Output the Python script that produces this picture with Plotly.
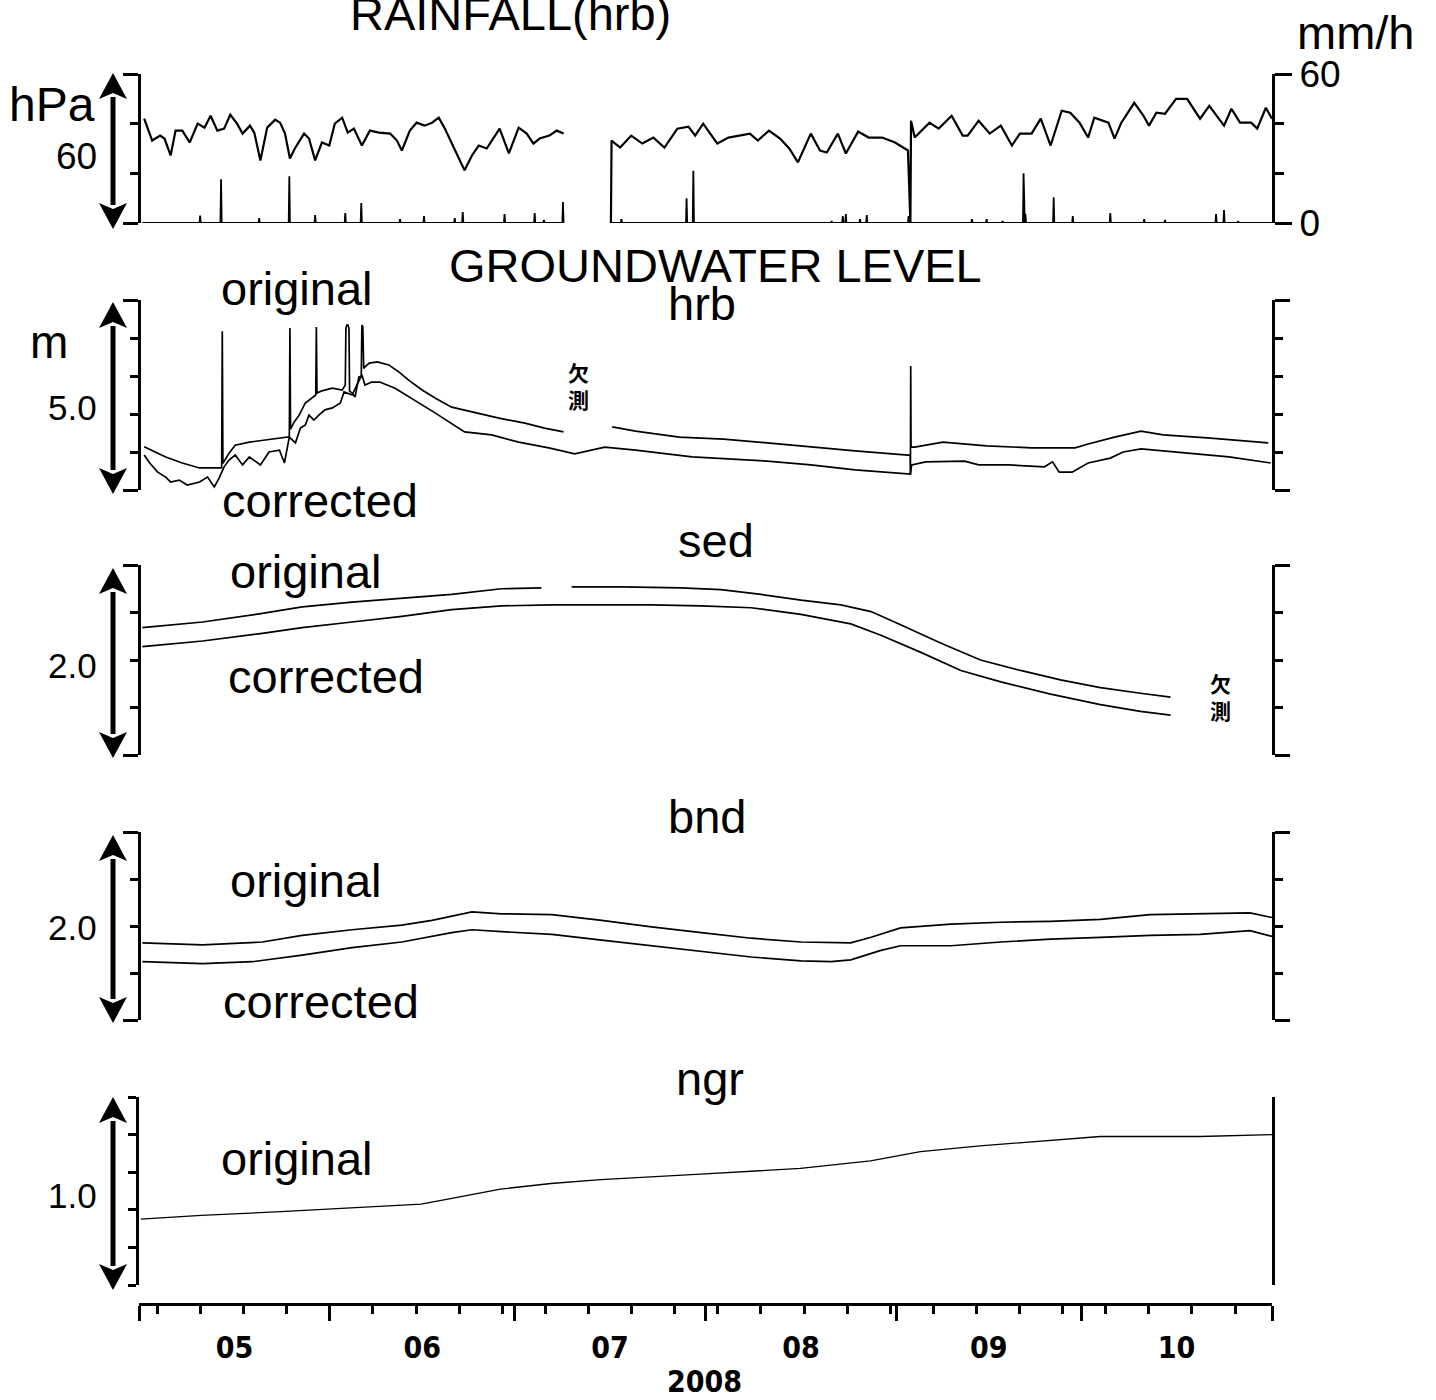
import plotly.graph_objects as go
import pandas as pd

W, H = 1436, 1400
BASE = pd.Timestamp("2008-05-01")

# ---------------- data (days since 2008-05-01) ----------------
press_day = [0.6, 1.9, 3.2, 3.9, 4.9, 5.7, 6.8, 8.0, 9.3, 10.4, 11.4, 12.5, 13.6, 14.6, 15.7, 16.6,
             17.8, 18.5, 19.5, 20.6, 21.9, 22.7, 23.5, 24.3, 25.1, 26.6, 27.4, 28.4, 29.5, 30.7,
             31.6, 32.8, 33.7, 34.7, 36.0, 37.3, 38.8, 40.6, 41.7, 42.5, 43.8, 44.9, 46.2, 47.4,
             48.5, 49.5, 51.4, 52.7, 53.9, 55.0, 56.3, 57.4, 58.4, 59.9, 61.5, 62.8, 63.9, 64.9,
             66.5, 67.7, 68.8, None,
             76.5, 76.6, 78.0, 79.8, 81.6, 83.4, 85.2, 87.3, 89.1, 90.2, 91.5, 93.8, 95.6, 97.4,
             99.1, 100.4, 102.2, 104.0, 105.5, 106.9, 109.0, 110.5, 111.6, 113.4, 114.7, 116.7,
             118.4, 120.6, 122.7, 124.8, 125.2, 125.3, 125.9, 128.3, 129.8, 131.9, 133.7, 134.5,
             136.3, 138.1, 139.9, 141.7, 143.0, 144.9, 146.4, 148.0, 149.8, 151.2, 152.7, 154.1,
             155.1, 157.4, 158.4, 159.5, 161.6, 163.1, 164.0, 165.2, 166.6, 168.4, 170.2, 172.3,
             173.8, 176.2, 177.4, 178.8, 180.6, 181.6, 183.0, 184.0]
press_hpa = [1012.0, 1003.2, 1005.2, 1004.0, 997.2, 1007.2, 1007.2, 1002.4, 1010.0, 1008.4, 1013.2,
             1007.2, 1008.0, 1013.6, 1010.0, 1006.0, 1009.2, 1006.4, 995.2, 1008.4, 1011.6, 1010.4,
             1006.0, 996.0, 1000.0, 1006.0, 1004.0, 995.2, 1002.4, 1001.2, 1010.0, 1012.4, 1006.4,
             1008.0, 1001.2, 1007.2, 1006.4, 1006.0, 1003.2, 999.2, 1007.2, 1010.4, 1009.2, 1010.4,
             1012.4, 1008.0, 998.0, 991.2, 997.2, 1001.2, 1000.0, 1004.4, 1008.0, 998.0, 1008.4,
             1006.0, 1002.0, 1004.0, 1005.2, 1007.2, 1006.0, None,
             970.0, 1003.2, 1000.4, 1005.2, 1002.0, 1004.4, 1000.4, 1008.0, 1008.8, 1005.2, 1010.0,
             1002.0, 1004.4, 1005.2, 1006.0, 1003.2, 1007.2, 1004.0, 1000.0, 994.4, 1006.0, 999.2,
             998.4, 1006.0, 998.0, 1006.8, 1004.4, 1004.4, 1002.4, 999.2, 970.0, 1011.2, 1004.4,
             1010.4, 1008.0, 1013.2, 1005.2, 1005.2, 1011.2, 1006.0, 1009.2, 1001.2, 1006.0, 1006.0,
             1012.0, 1001.2, 1015.2, 1014.4, 1010.4, 1004.4, 1012.4, 1010.4, 1004.0, 1010.4, 1018.4,
             1013.2, 1009.2, 1014.4, 1014.0, 1020.0, 1020.0, 1012.0, 1017.2, 1009.2, 1016.0, 1010.4,
             1010.4, 1008.0, 1016.4, 1012.0]

rain_segments = [(0.3, 68.8), (76.5, 184.0)]
rain_day = [9.7, 13.1, 19.3, 24.2, 28.4, 33.3, 35.9, 42.2, 46.1, 51.1, 52.4, 59.2, 64.1, 65.6, 68.7,
            78.2, 88.8, 89.9, 112.4, 114.2, 114.7, 117.0, 118.1, 124.9, 135.2, 137.6, 140.2, 143.6,
            143.9, 148.5, 151.6, 157.7, 163.2, 166.6, 174.9, 176.2, 178.5]
rain_mm = [3.0, 17.6, 2.0, 18.8, 3.2, 4.0, 8.0, 1.6, 2.8, 2.0, 4.4, 3.6, 4.0, 1.2, 8.4,
           1.6, 10.0, 21.0, 0.8, 2.8, 3.6, 1.6, 3.2, 2.8, 1.6, 1.6, 0.8, 20.0,
           3.6, 10.4, 2.8, 4.0, 1.6, 1.2, 3.6, 5.2, 0.8]

hrb_orig_day = [0.6, 4.1, 6.8, 9.6, 13.0, 13.2, 13.3, 13.4, 14.4, 15.4, 17.7, 20.3, 23.9, 24.2, 24.3, 24.4,
                25.0, 25.8, 26.8, 28.2, 28.5, 28.6, 28.7, 29.5, 31.2, 32.8, 33.3, 33.4, 33.55, 33.75,
                33.9, 34.0, 34.4, 34.9, 35.5, 35.9, 36.0, 36.15, 36.3, 36.5, 37.2, 38.5, 40.4, 42.0,
                43.6, 45.8, 47.9, 50.6, 54.4, 58.3, 62.5, 65.7, 68.8, None,
                76.7, 80.5, 87.6, 94.8, 101.9, 109.0, 116.2, 124.8, 125.15, 125.2, 125.25, 125.3, 125.9,
                130.5, 137.6, 144.9, 152.0, 154.1, 158.4, 162.7, 166.3, 173.5, 183.4]
hrb_orig_m = [1.14, 0.87, 0.71, 0.58, 0.58, 0.58, 4.18, 0.70, 0.97, 1.18, 1.26, 1.32, 1.39, 1.40, 4.26, 1.60,
              1.79, 1.97, 2.29, 2.45, 2.50, 4.29, 2.55, 2.61, 2.68, 2.63, 2.76, 4.25, 4.34, 4.34,
              4.25, 2.60, 2.55, 2.45, 2.97, 3.00, 4.34, 4.30, 3.20, 3.24, 3.34, 3.37, 3.29, 3.11,
              2.89, 2.63, 2.42, 2.18, 2.03, 1.89, 1.76, 1.63, 1.53, None,
              1.66, 1.55, 1.39, 1.34, 1.24, 1.13, 1.03, 0.92, 0.92, 0.40, 3.26, 1.13, 1.13,
              1.26, 1.16, 1.11, 1.11, 1.21, 1.39, 1.55, 1.45, 1.37, 1.24]

hrb_corr_day = [0.6, 1.5, 2.8, 4.1, 4.9, 6.3, 7.6, 9.6, 10.9, 12.0, 12.8, 13.6, 14.4, 15.4, 16.6, 17.7,
                19.5, 20.9, 22.6, 23.4, 24.2, 25.2, 26.0, 26.8, 27.4, 28.2, 29.0, 30.0, 31.2, 32.5,
                33.1, 34.4, 36.0, 36.5, 37.6, 38.9, 41.4, 44.6, 47.9, 52.7, 57.1, 61.5, 66.4, 70.6,
                73.3, 75.5, 80.5, 89.7, 101.9, 109.0, 116.2, 124.8, 125.2, 125.4, 127.7, 134.0, 136.3,
                141.2, 147.0, 148.3, 149.4, 151.5, 154.1, 157.7, 159.8, 162.7, 169.9, 177.0, 183.8]
hrb_corr_m = [0.92, 0.71, 0.47, 0.34, 0.21, 0.26, 0.13, 0.21, 0.34, 0.08, 0.32, 0.61, 0.79, 0.92, 0.66, 0.87,
              0.66, 1.00, 1.05, 0.71, 1.39, 1.24, 1.63, 1.71, 1.97, 1.84, 1.97, 2.11, 2.16, 2.29,
              2.58, 2.50, 3.03, 2.76, 2.84, 2.84, 2.68, 2.37, 2.03, 1.53, 1.45, 1.26, 1.11, 0.95,
              1.05, 1.13, 1.05, 0.87, 0.76, 0.66, 0.53, 0.42, 0.42, 0.66, 0.74, 0.76, 0.66,
              0.66, 0.61, 0.74, 0.47, 0.47, 0.71, 0.84, 1.00, 1.08, 0.97, 0.87, 0.71]

sed_orig_day = [0.3, 10.1, 19.8, 26.3, 34.4, 42.5, 50.6, 58.7, 65.2, None, 70.1, 78.2, 87.9, 94.4, 100.9,
                107.4, 113.9, 118.8, 123.6, 130.1, 136.6, 143.1, 149.6, 156.1, 162.6, 167.5]
sed_orig_m = [1.34, 1.40, 1.49, 1.56, 1.61, 1.65, 1.69, 1.75, 1.76, None, 1.77, 1.77, 1.76, 1.74, 1.69,
              1.63, 1.58, 1.51, 1.37, 1.18, 1.00, 0.89, 0.79, 0.71, 0.65, 0.61]
sed_corr_day = [0.3, 10.1, 19.8, 26.3, 34.4, 42.5, 50.6, 58.7, 66.9, 75.0, 83.1, 91.2, 99.3, 107.4,
                115.5, 120.4, 126.9, 133.4, 139.9, 148.0, 156.1, 162.6, 167.5]
sed_corr_m = [1.14, 1.20, 1.28, 1.34, 1.40, 1.46, 1.53, 1.57, 1.58, 1.58, 1.58, 1.57, 1.55, 1.48,
              1.38, 1.26, 1.08, 0.89, 0.77, 0.64, 0.53, 0.46, 0.42]

bnd_day = [0.3, 10.1, 19.8, 26.3, 34.4, 42.5, 47.4, 53.9, 58.7, 66.9, 75.0, 83.1, 91.2, 99.3, 107.4,
           115.5, 118.8, 123.6, 131.8, 139.9, 148.0, 156.1, 164.2, 172.3, 180.4, 184.0]
bnd_orig_m = [0.82, 0.80, 0.83, 0.90, 0.96, 1.01, 1.06, 1.15, 1.13, 1.12, 1.06, 0.99, 0.93, 0.87, 0.83,
              0.82, 0.88, 0.98, 1.02, 1.04, 1.05, 1.07, 1.12, 1.13, 1.14, 1.09]
bnd_corr_day = [0.3, 10.1, 18.2, 26.3, 34.4, 42.5, 50.6, 53.9, 58.7, 66.9, 75.0, 83.1, 91.2, 99.3, 107.4,
                112.3, 115.5, 120.4, 123.6, 131.8, 139.9, 148.0, 156.1, 164.2, 172.3, 180.4, 184.0]
bnd_corr_m = [0.62, 0.60, 0.62, 0.69, 0.77, 0.83, 0.93, 0.96, 0.94, 0.91, 0.85, 0.79, 0.73, 0.67, 0.63,
              0.62, 0.64, 0.74, 0.79, 0.79, 0.83, 0.86, 0.88, 0.90, 0.91, 0.95, 0.89]

ngr_day = [0.3, 10.1, 23.0, 34.4, 45.8, 50.6, 58.7, 66.9, 75.0, 91.2, 107.4, 118.8, 126.9, 136.6,
           148.0, 156.1, 164.2, 172.3, 184.0]
ngr_m = [0.35, 0.37, 0.39, 0.41, 0.43, 0.46, 0.51, 0.54, 0.56, 0.59, 0.62, 0.66, 0.71, 0.74,
         0.77, 0.79, 0.79, 0.79, 0.80]


def to_dates(days):
    return [None if d is None else BASE + pd.Timedelta(days=d) for d in days]


def px(x):
    return x / W


def py(y):
    return 1 - y / H


# rain line with zero baseline between events
rx, ry = [], []
for s, e in rain_segments:
    rx.append(s); ry.append(0)
    for d, v in zip(rain_day, rain_mm):
        if s <= d <= e:
            rx += [d - 0.1, d, d + 0.1]
            ry += [0, v, 0]
    rx.append(e); ry.append(0)
    rx.append(None); ry.append(None)

fig = go.Figure()
LINE = dict(color="black", width=1.7)

fig.add_trace(go.Scatter(x=to_dates(press_day), y=press_hpa, xaxis="x5", yaxis="y5", mode="lines",
                         line=dict(color="black", width=2.2), connectgaps=False))
fig.add_trace(go.Scatter(x=to_dates(rx), y=ry, xaxis="x5", yaxis="y6", mode="lines",
                         line=dict(color="black", width=1.8), connectgaps=False))
fig.add_trace(go.Scatter(x=to_dates(hrb_orig_day), y=hrb_orig_m, xaxis="x4", yaxis="y4", mode="lines",
                         line=LINE, connectgaps=False))
fig.add_trace(go.Scatter(x=to_dates(hrb_corr_day), y=hrb_corr_m, xaxis="x4", yaxis="y4", mode="lines",
                         line=LINE))
fig.add_trace(go.Scatter(x=to_dates(sed_orig_day), y=sed_orig_m, xaxis="x3", yaxis="y3", mode="lines",
                         line=LINE, connectgaps=False))
fig.add_trace(go.Scatter(x=to_dates(sed_corr_day), y=sed_corr_m, xaxis="x3", yaxis="y3", mode="lines",
                         line=LINE))
fig.add_trace(go.Scatter(x=to_dates(bnd_day), y=bnd_orig_m, xaxis="x2", yaxis="y2", mode="lines",
                         line=LINE))
fig.add_trace(go.Scatter(x=to_dates(bnd_corr_day), y=bnd_corr_m, xaxis="x2", yaxis="y2", mode="lines",
                         line=LINE))
fig.add_trace(go.Scatter(x=to_dates(ngr_day), y=ngr_m, xaxis="x", yaxis="y", mode="lines",
                         line=dict(color="black", width=1.3)))

XDOM = [px(139), px(1272)]
PDOM = [px(140.5), px(1272)]
XRANGE = ["2008-05-01", "2008-11-01"]
TICKFONT = dict(family="Liberation Sans Narrow, Arial Narrow, DejaVu Sans Condensed, sans-serif",
                size=30, color="black", weight="bold")


def yax(top, bot, rng, ends, inner, anchor, mirror, lmaj=15, lmin=8, side="left"):
    return dict(domain=[py(bot), py(top)], range=rng, anchor=anchor, side=side,
                showline=True, linecolor="black", linewidth=3,
                ticks="outside", tickvals=ends, ticklen=lmaj, tickwidth=2.5, tickcolor="black",
                showticklabels=False, showgrid=False, zeroline=False, mirror=mirror,
                minor=dict(tickvals=inner, ticks="outside", ticklen=lmin, tickwidth=2.5,
                           tickcolor="black", showgrid=False),
                fixedrange=True, automargin=False)


def hidden_x(anchor):
    return dict(domain=PDOM, range=XRANGE, matches="x", anchor=anchor, showline=False,
                showticklabels=False, ticks="", showgrid=False, zeroline=False, type="date",
                automargin=False)


layout = dict(
    width=W, height=H, autosize=False,
    margin=dict(l=0, r=0, t=0, b=0, pad=0, autoexpand=False),
    paper_bgcolor="white", plot_bgcolor="white", showlegend=False,
    font=dict(family="Liberation Sans, Arial, sans-serif", color="black"),
    xaxis=dict(domain=XDOM, range=XRANGE, type="date", anchor="free", position=py(1304),
               showline=True, linecolor="black", linewidth=2.5,
               ticks="outside", ticklen=15, tickwidth=2.5, tickcolor="black",
               dtick="M1", tick0="2008-05-01", tickformat="%m", ticklabelmode="period",
               tickfont=TICKFONT, ticklabelstandoff=1, automargin=False,
               minor=dict(dtick=7 * 86400000, tick0="2008-05-04", ticks="outside", ticklen=8,
                          tickwidth=2.5, tickcolor="black", showgrid=False),
               showgrid=False, zeroline=False),
    xaxis2=hidden_x("y2"), xaxis3=hidden_x("y3"), xaxis4=hidden_x("y4"), xaxis5=hidden_x("y5"),
    yaxis=yax(1097, 1285, [0, 1.0], [0, 0.2, 0.4, 0.6, 0.8, 1.0], [], "x", True, lmaj=8),
    yaxis2=yax(832, 1020, [0, 2.0], [0, 2.0], [0.5, 1.0, 1.5], "x2", "allticks"),
    yaxis3=yax(565, 755, [0, 2.0], [0, 2.0], [0.5, 1.0, 1.5], "x3", "allticks"),
    yaxis4=yax(300, 490, [0, 5.0], [0, 5.0], [1, 2, 3, 4], "x4", "allticks"),
    yaxis5=yax(74, 223, [970, 1030], [970, 1030], [990, 1010], "x5", False),
)
rain_ax = yax(74, 223, [0, 60], [0, 60], [20, 40], "x5", False, lmaj=17, lmin=9, side="right")
rain_ax.update(overlaying="y5", showticklabels=True, ticktext=["0", "60"],
               tickfont=dict(family="Liberation Sans, Arial, sans-serif", size=37, color="black"),
               ticklabelstandoff=0)
layout["yaxis6"] = rain_ax
fig.update_layout(**layout)

# ---------------- double-headed scale arrows ----------------
shapes = []
XC = 113
for top, bot in [(73, 229), (302, 494), (568, 758), (835, 1023), (1097, 1290)]:
    hh, hw = 26, 14
    shapes.append(dict(type="line", xref="paper", yref="paper", x0=px(XC), x1=px(XC),
                       y0=py(top + hh - 2), y1=py(bot - hh + 2), line=dict(color="black", width=5)))
    shapes.append(dict(type="path", xref="paper", yref="paper", fillcolor="black", line=dict(width=0),
                       path=f"M {px(XC)},{py(top)} L {px(XC + hw)},{py(top + hh)} L {px(XC)},{py(top + hh - 6)} "
                            f"L {px(XC - hw)},{py(top + hh)} Z"))
    shapes.append(dict(type="path", xref="paper", yref="paper", fillcolor="black", line=dict(width=0),
                       path=f"M {px(XC)},{py(bot)} L {px(XC + hw)},{py(bot - hh)} L {px(XC)},{py(bot - hh + 6)} "
                            f"L {px(XC - hw)},{py(bot - hh)} Z"))
fig.update_layout(shapes=shapes)

# ---------------- text ----------------
SANS = "Liberation Sans, Arial, sans-serif"
texts = [
    ("RAINFALL(hrb)", 510, 13, 47), ("mm/h", 1356, 32, 47),
    ("hPa", 52, 105, 48), ("60", 76, 157, 37),
    ("GROUNDWATER LEVEL", 715, 265, 47), ("hrb", 702, 303, 47),
    ("original", 297, 289, 47), ("corrected", 320, 500, 47), ("m", 49, 342, 46), ("5.0", 72, 408, 35),
    ("sed", 716, 540, 47), ("original", 306, 571, 47), ("corrected", 326, 676, 47), ("2.0", 72, 665, 35),
    ("bnd", 707, 817, 47), ("original", 306, 880, 47), ("corrected", 321, 1001, 47), ("2.0", 72, 927, 35),
    ("ngr", 710, 1078, 47), ("original", 297, 1158, 47), ("1.0", 72, 1195, 35),
]
ann = []
for t, x, y, s in texts:
    ann.append(dict(text=t, x=px(x), y=py(y), xref="paper", yref="paper", xanchor="center",
                    yanchor="middle", showarrow=False, font=dict(family=SANS, size=s, color="black")))
for x, y in [(578, 385), (1220, 697)]:
    ann.append(dict(text="欠<br>測", x=px(x), y=py(y), xref="paper", yref="paper", xanchor="center",
                    yanchor="middle", showarrow=False,
                    font=dict(family="Noto Sans CJK JP", size=21, color="black", weight="bold")))
ann.append(dict(text="2008", x=px(704), y=py(1381), xref="paper", yref="paper", xanchor="center",
                yanchor="middle", showarrow=False, font=TICKFONT))
fig.update_layout(annotations=ann)

fig.write_html("out.html")
